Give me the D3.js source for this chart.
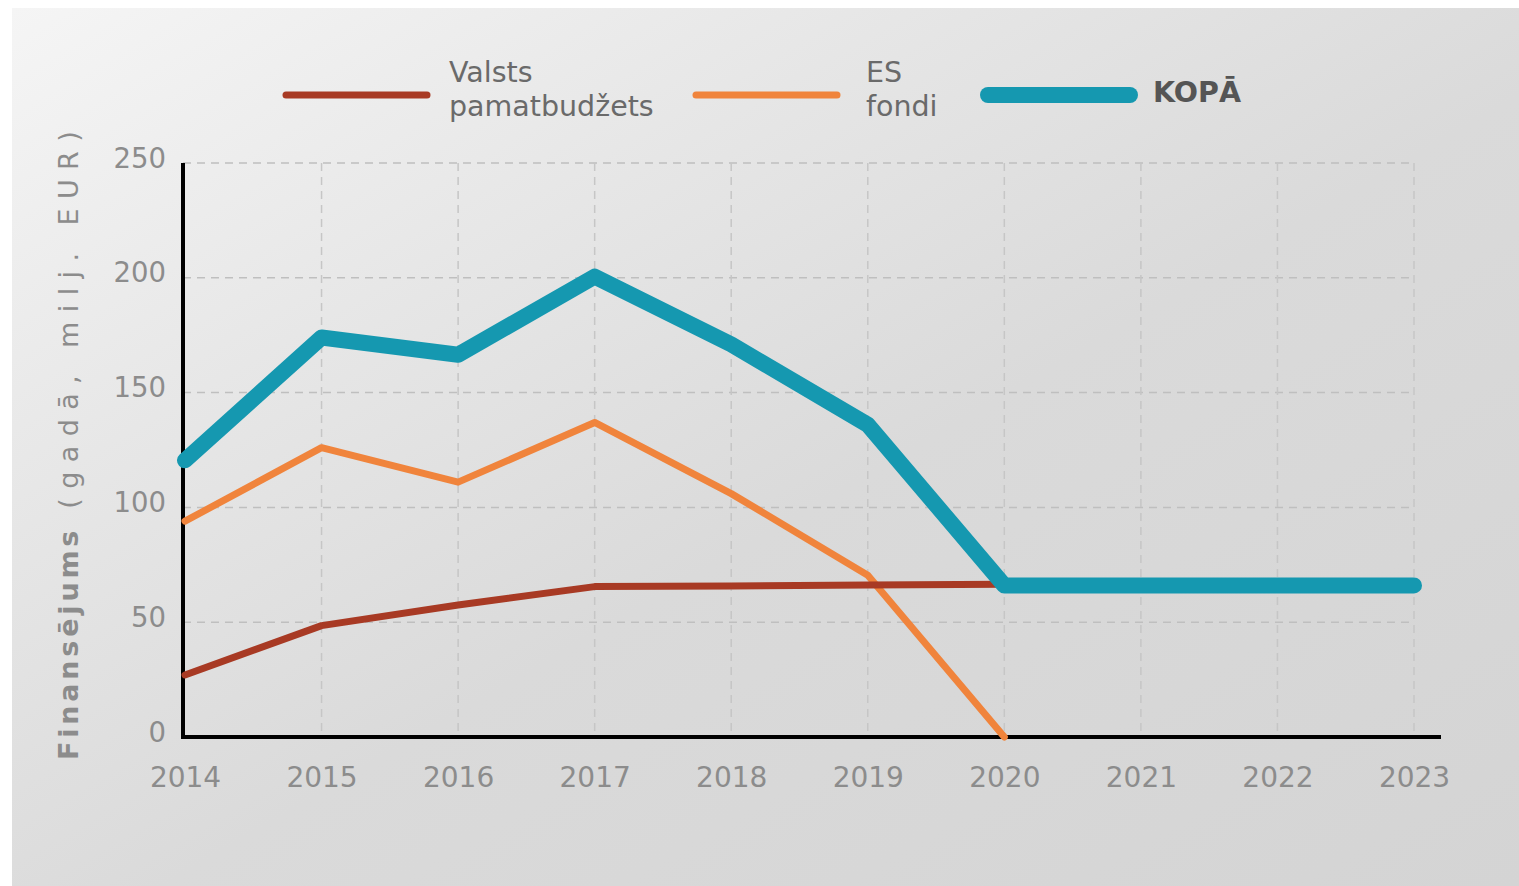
<!DOCTYPE html>
<html>
<head>
<meta charset="utf-8">
<script src="https://cdn.jsdelivr.net/npm/d3@7"></script>
<style>
html,body{margin:0;padding:0;background:#fff;}
svg{display:block;}
text{font-family:"DejaVu Sans",Verdana,sans-serif;}
</style>
</head>
<body>
<script>
const years = [2014, 2015, 2016, 2017, 2018, 2019, 2020, 2021, 2022, 2023];
const valstsYears = [2014, 2015, 2016, 2017, 2018, 2019, 2020];
const valstsValues = [27, 48.5, 57.5, 65.5, 65.8, 66.2, 66.5];
const esYears = [2014, 2015, 2016, 2017, 2018, 2019, 2020];
const esValues = [94, 126, 111, 137, 106, 70.5, 0];
const kopaYears = [2014, 2015, 2016, 2017, 2018, 2019, 2020, 2021, 2022, 2023];
const kopaValues = [120.5, 174, 166.5, 200.5, 171, 136, 66, 66, 66, 66];
const yTicks = [0, 50, 100, 150, 200, 250];
const seriesNames = ["Valsts\npamatbudžets", "ES\nfondi", "KOPĀ"];
const yLabelBold = "Finansējums";
const yLabelRest = " (gadā, milj. EUR)";

const W = 1519, H = 886;
const svg = d3.select("body").append("svg").attr("width", W).attr("height", H);
const defs = svg.append("defs");
const grad = defs.append("linearGradient").attr("id", "bg")
  .attr("x1", 0).attr("y1", 0).attr("x2", 1).attr("y2", 1);
[[0, "#f5f5f5"], [0.3, "#e6e6e6"], [0.55, "#dadada"], [1, "#d4d4d4"]].forEach(([o, c]) =>
  grad.append("stop").attr("offset", o).attr("stop-color", c));

svg.append("rect").attr("x", 12).attr("y", 8).attr("width", W - 12).attr("height", H - 8)
  .attr("fill", "url(#bg)");

const x = d3.scaleLinear().domain([2014, 2023]).range([185, 1414]);
const y = d3.scaleLinear().domain([0, 250]).range([737, 163]);

const g = svg.append("g");

// grid
g.selectAll("line.hg").data(yTicks.filter(d => d > 0)).join("line")
  .attr("x1", 183).attr("x2", x(2023))
  .attr("y1", d => y(d)).attr("y2", d => y(d))
  .attr("stroke", "#bfbfbf").attr("stroke-width", 1.5).attr("stroke-dasharray", "8,6");
g.selectAll("line.vg").data(years.filter(d => d > 2014)).join("line")
  .attr("x1", d => x(d)).attr("x2", d => x(d))
  .attr("y1", y(250)).attr("y2", y(0))
  .attr("stroke", "#c6c6c6").attr("stroke-width", 1.5).attr("stroke-dasharray", "8,6");

// y tick labels
const yAxis = d3.axisLeft(y).tickValues(yTicks).tickSize(0).tickPadding(16);
const ya = g.append("g").attr("transform", "translate(182,0)").call(yAxis);
ya.select(".domain").remove();
ya.selectAll("text").attr("font-size", 27.5).attr("fill", "#8c8c8c")
  .attr("font-family", "DejaVu Sans, sans-serif").attr("dy", "0.15em");

// x tick labels
const xAxis = d3.axisBottom(x).tickValues(years).tickFormat(d3.format("d")).tickSize(0).tickPadding(30);
const xa = g.append("g").attr("transform", `translate(0,${y(0)})`).call(xAxis);
xa.select(".domain").remove();
xa.selectAll("text").attr("font-size", 28).attr("fill", "#8c8c8c")
  .attr("font-family", "DejaVu Sans, sans-serif");

// axis lines
g.append("line").attr("x1", 183).attr("x2", 183).attr("y1", y(250)).attr("y2", y(0) + 2)
  .attr("stroke", "#000").attr("stroke-width", 4);
g.append("line").attr("x1", 181).attr("x2", 1441).attr("y1", y(0)).attr("y2", y(0))
  .attr("stroke", "#000").attr("stroke-width", 4);

// y axis title
const yt = svg.append("text")
  .attr("transform", "translate(78,760) rotate(-90)")
  .attr("text-anchor", "start")
  .attr("font-size", 27).attr("fill", "#8c8c8c");
yt.append("tspan").attr("font-weight", "bold").attr("letter-spacing", 3.8).text(yLabelBold);
yt.append("tspan").attr("letter-spacing", 9.4).text(yLabelRest);

// lines
const line = d3.line().x(d => x(d[0])).y(d => y(d[1]));
const colors = ["#a83a24", "#f0843c", "#1598b0"];
const widths = [7, 7, 16];
const data = [
  valstsYears.map((yr, i) => [yr, valstsValues[i]]),
  esYears.map((yr, i) => [yr, esValues[i]]),
  kopaYears.map((yr, i) => [yr, kopaValues[i]])
];
[1, 0, 2].forEach(i => {
  g.append("path").datum(data[i]).attr("d", line)
    .attr("fill", "none").attr("stroke", colors[i]).attr("stroke-width", widths[i])
    .attr("stroke-linejoin", "round").attr("stroke-linecap", "round");
});

// legend
const legendPos = [
  {x1: 286, x2: 427, tx: 449},
  {x1: 696, x2: 837, tx: 866},
  {x1: 988, x2: 1130, tx: 1153}
];
const lg = svg.append("g");
seriesNames.forEach((name, i) => {
  const p = legendPos[i];
  lg.append("line").attr("x1", p.x1).attr("x2", p.x2).attr("y1", 95).attr("y2", 95)
    .attr("stroke", colors[i]).attr("stroke-width", i === 2 ? 16 : 7).attr("stroke-linecap", "round");
  const lines = name.split("\n");
  const t = lg.append("text").attr("x", p.tx).attr("font-size", 28.5)
    .attr("fill", i === 2 ? "#555" : "#6a6a6a")
    .attr("font-weight", i === 2 ? "bold" : "normal");
  if (lines.length === 1) {
    t.attr("y", 102).text(lines[0]);
  } else {
    lines.forEach((l, j) => t.append("tspan").attr("x", p.tx).attr("y", 82 + j * 34).text(l));
  }
});
</script>
</body>
</html>
